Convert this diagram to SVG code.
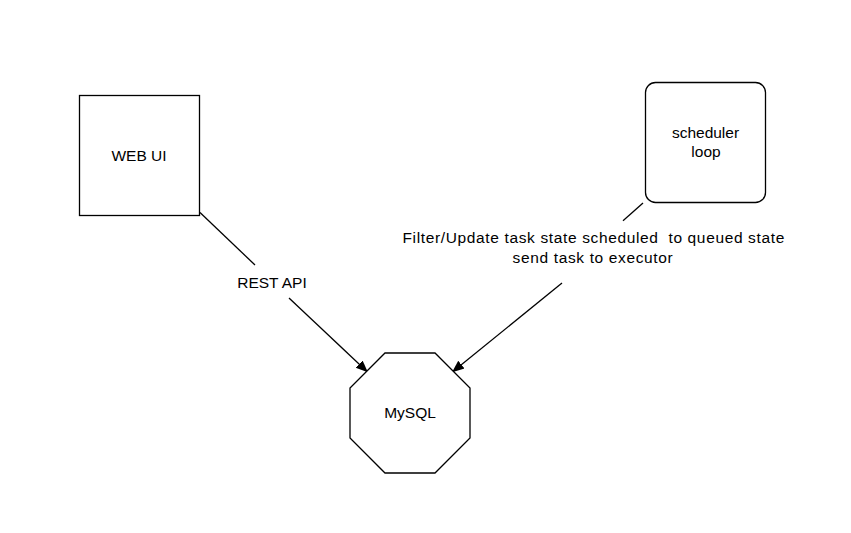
<svg xmlns="http://www.w3.org/2000/svg" width="851" height="533" viewBox="0 0 851 533">
<defs>
<style>
.shape{fill:#ffffff;stroke:#000000;stroke-width:1.3}
.edge{fill:none;stroke:#000000;stroke-width:1.3}
text{font-family:"Liberation Sans",Arial,Helvetica,sans-serif;font-size:15.5px;fill:#000000;text-anchor:middle}
.wide{letter-spacing:0.64px}
</style>
<marker id="arrow" viewBox="0 0 10 10" refX="9" refY="5" markerWidth="12" markerHeight="12" markerUnits="userSpaceOnUse" orient="auto">
<path d="M0,0.8 L10,5 L0,9.2 Z" fill="#000000"/>
</marker>
</defs>
<rect width="851" height="533" fill="#ffffff"/>
<g id="connectors">
<g id="edge-webui-mysql">
<line class="edge" x1="200" y1="212.5" x2="255" y2="265"/>
<line class="edge" x1="289" y1="298" x2="367" y2="371.5" marker-end="url(#arrow)"/>
<text x="272" y="288">REST API</text>
</g>
<g id="edge-scheduler-mysql">
<line class="edge" x1="643" y1="203" x2="623" y2="220.7"/>
<line class="edge" x1="562" y1="283" x2="453" y2="371.5" marker-end="url(#arrow)"/>
<text class="wide" x="593.7" y="243.3" xml:space="preserve">Filter/Update task state scheduled  to queued state</text>
<text class="wide" x="593" y="263.3">send task to executor</text>
</g>
</g>
<g id="node-webui">
<rect class="shape" x="79.5" y="95.5" width="120" height="120"/>
<text x="139" y="160.5">WEB UI</text>
</g>
<g id="node-scheduler">
<rect class="shape" x="645.5" y="82.5" width="120" height="120" rx="10" ry="10"/>
<text x="705.5" y="138.3">scheduler</text>
<text x="706" y="157.3">loop</text>
</g>
<g id="node-mysql">
<polygon class="shape" points="385,353 435,353 470,388 470,438 435,473 385,473 350,438 350,388"/>
<text x="410" y="418.3">MySQL</text>
</g>
</svg>
